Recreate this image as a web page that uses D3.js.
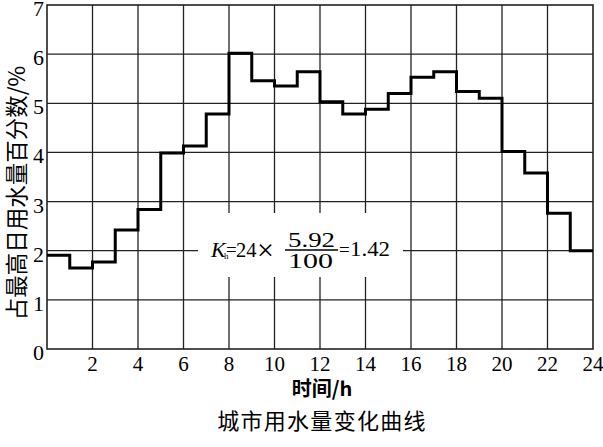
<!DOCTYPE html>
<html>
<head>
<meta charset="utf-8">
<script src="https://cdn.jsdelivr.net/npm/d3@7"></script>
<style>
  body { margin: 0; background: #fff; }
  svg { display: block; }
</style>
</head>
<body>
<div id="chart"></div>
<script>
'use strict'

// hourly share of max-day water use, %
const hours = d3.range(0, 24)
const values = [1.91, 1.65, 1.77, 2.42, 2.84, 3.99, 4.13, 4.78,
                6.02, 5.46, 5.35, 5.64, 5.03, 4.78, 4.88, 5.20,
                5.53, 5.64, 5.24, 5.10, 4.02, 3.58, 2.76, 2.00]
const xTicks = [2, 4, 6, 8, 10, 12, 14, 16, 18, 20, 22, 24]
const yTicks = [0, 1, 2, 3, 4, 5, 6, 7]
const xGrid = d3.range(2, 24, 2)
const yGrid = d3.range(1, 7)

const svgWidth = 603, svgHeight = 447
const margin = { left: 47, right: 10, top: 5, bottom: 98 }
const width = svgWidth - margin.left - margin.right
const height = svgHeight - margin.top - margin.bottom

const serif = "'Liberation Serif', 'Times New Roman', Tinos, 'DejaVu Serif', serif"
const cjk = "'Noto Sans CJK SC', sans-serif"

const svg = d3.select('#chart')
    .append('svg')
    .attr('width', svgWidth)
    .attr('height', svgHeight)

const g = svg.append('g')
    .attr('transform', `translate(${margin.left},${margin.top})`)

const x = d3.scaleLinear().domain([0, 24]).range([0, width])
const y = d3.scaleLinear().domain([0, 7]).range([height, 0])

// grid
g.append('g')
    .selectAll('line')
    .data(xGrid)
    .join('line')
    .attr('x1', d => x(d)).attr('x2', d => x(d))
    .attr('y1', 0).attr('y2', height)
    .attr('stroke', '#222').attr('stroke-width', 1.3)

g.append('g')
    .selectAll('line')
    .data(yGrid)
    .join('line')
    .attr('x1', 0).attr('x2', width)
    .attr('y1', d => y(d)).attr('y2', d => y(d))
    .attr('stroke', '#222').attr('stroke-width', 1.3)

// frame
g.append('rect')
    .attr('width', width).attr('height', height)
    .attr('fill', 'none')
    .attr('stroke', '#222').attr('stroke-width', 1.6)

// step line
const stepData = hours.map(h => [h, values[h]])
stepData.push([24, values[23]])

const line = d3.line()
    .x(d => x(d[0]))
    .y(d => y(d[1]))
    .curve(d3.curveStepAfter)

g.append('path')
    .datum(stepData)
    .attr('d', line)
    .attr('fill', 'none')
    .attr('stroke', '#000')
    .attr('stroke-width', 3)

// tick labels
g.append('g')
    .selectAll('text')
    .data(xTicks)
    .join('text')
    .attr('x', d => x(d))
    .attr('y', height + 22)
    .attr('text-anchor', 'middle')
    .attr('font-family', serif)
    .attr('font-size', 21)
    .text(d => d)

g.append('g')
    .selectAll('text')
    .data(yTicks)
    .join('text')
    .attr('x', -3)
    .attr('y', d => y(d) + 11)
    .attr('text-anchor', 'end')
    .attr('font-family', serif)
    .attr('font-size', 22)
    .text(d => d)

// axis titles
g.append('text')
    .attr('x', width / 2 + 2)
    .attr('y', height + 47)
    .attr('text-anchor', 'middle')
    .attr('font-family', cjk)
    .attr('font-size', 20)
    .attr('font-weight', 'bold')
    .text('时间/h')

svg.append('text')
    .attr('transform', `translate(25,${margin.top + height / 2 + 16}) rotate(-90)`)
    .attr('text-anchor', 'middle')
    .attr('font-family', cjk)
    .attr('font-size', 22.5)
    .text('占最高日用水量百分数/%')

svg.append('text')
    .attr('x', margin.left + width / 2 + 2)
    .attr('y', 429)
    .attr('text-anchor', 'middle')
    .attr('font-family', cjk)
    .attr('font-size', 22)
    .attr('letter-spacing', 1.3)
    .text('城市用水量变化曲线')

// formula: Kh = 24 x 5.92/100 = 1.42
const f = svg.append('g').attr('font-family', serif).attr('font-size', 22)
f.append('rect').attr('x', 198).attr('y', 213).attr('width', 205).attr('height', 64).attr('fill', '#fff')

f.append('text').attr('x', 211).attr('y', 257).attr('font-style', 'italic').text('K')
f.append('text').attr('x', 224).attr('y', 259).attr('font-size', 9).text('h')
f.append('text').attr('x', 226).attr('y', 256).attr('font-size', 19).text('=')
f.append('text').attr('x', 236).attr('y', 257)
    .attr('textLength', 20.5).attr('lengthAdjust', 'spacingAndGlyphs').text('24')
f.append('text').attr('x', 257).attr('y', 260).attr('font-size', 30).text('×')
f.append('text').attr('x', 288).attr('y', 247)
    .attr('textLength', 47).attr('lengthAdjust', 'spacingAndGlyphs').text('5.92')
f.append('line').attr('x1', 285).attr('x2', 338).attr('y1', 250).attr('y2', 250)
    .attr('stroke', '#000').attr('stroke-width', 1.3)
f.append('text').attr('x', 288).attr('y', 268)
    .attr('textLength', 45).attr('lengthAdjust', 'spacingAndGlyphs').text('100')
f.append('text').attr('x', 339).attr('y', 256).attr('font-size', 19).text('=')
f.append('text').attr('x', 350).attr('y', 256)
    .attr('textLength', 40).attr('lengthAdjust', 'spacingAndGlyphs').text('1.42')
</script>
</body>
</html>
